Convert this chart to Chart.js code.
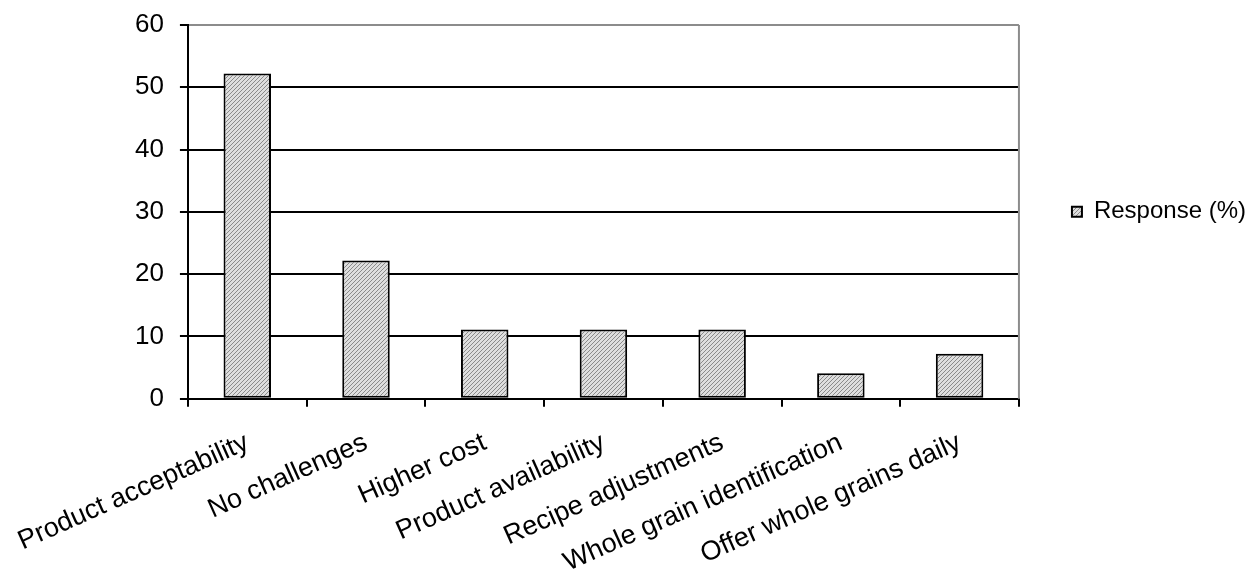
<!DOCTYPE html>
<html>
<head>
<meta charset="utf-8">
<script src="https://cdn.jsdelivr.net/npm/chart.js@4.4.1/dist/chart.umd.min.js"></script>
<style>
  html, body { margin: 0; padding: 0; background: #fff; }
  #wrap { width: 1256px; height: 571px; }
</style>
</head>
<body>
<div id="wrap"><canvas id="chart" width="1256" height="571"></canvas></div>
<script>
const categories = ['Product acceptability', 'No challenges', 'Higher cost', 'Product availability',
    'Recipe adjustments', 'Whole grain identification', 'Offer whole grains daily'];
const responses = [52.2, 22.2, 11.1, 11.1, 11.1, 4.1, 7.2];
const yTicks = [0, 10, 20, 30, 40, 50, 60];
const seriesName = 'Response (%)';

const FONT = '"Liberation Sans", Arial, sans-serif';

// light upward diagonal hatch, like the old Excel fill
function makeHatch() {
    const c = document.createElement('canvas');
    c.width = 4; c.height = 4;
    const g = c.getContext('2d');
    g.fillStyle = '#dedede';
    g.fillRect(0, 0, 4, 4);
    g.fillStyle = '#8a8a8a';
    for (let i = 0; i < 4; i++) g.fillRect(3 - i, i, 1, 1);
    return g.createPattern(c, 'repeat');
}

// grey frame line on the right side of the plot area
const rightFrame = {
    id: 'rightFrame',
    beforeDatasetsDraw(chart) {
        const { ctx, chartArea } = chart;
        ctx.save();
        ctx.strokeStyle = '#8c8c8c';
        ctx.lineWidth = 2;
        ctx.beginPath();
        ctx.moveTo(chartArea.right, chartArea.top);
        ctx.lineTo(chartArea.right, chartArea.bottom);
        ctx.stroke();
        ctx.restore();
    }
};

const ctx = document.getElementById('chart').getContext('2d');
new Chart(ctx, {
    type: 'bar',
    data: {
        labels: categories,
        datasets: [{
            label: seriesName,
            data: responses,
            backgroundColor: makeHatch(),
            borderColor: '#000',
            borderWidth: 2,
            borderSkipped: false,
            categoryPercentage: 0.8,
            barPercentage: 0.5
        }]
    },
    options: {
        responsive: false,
        animation: false,
        // rotated labels reserve more room than they use, so pull the bottom in
        layout: { padding: { top: 25, right: 0, left: 119, bottom: -28 } },
        plugins: {
            tooltip: { enabled: false },
            legend: {
                position: 'right',
                align: 'center',
                fullSize: false,
                labels: {
                    color: '#000',
                    boxWidth: 10,
                    boxHeight: 10,
                    padding: 53,
                    font: { family: FONT, size: 24 }
                }
            }
        },
        scales: {
            y: {
                min: yTicks[0],
                max: yTicks[yTicks.length - 1],
                afterBuildTicks: axis => { axis.ticks = yTicks.map(v => ({ value: v })); },
                // tick padding would otherwise also push the plot top down
                afterFit: axis => { axis.paddingTop = 0; },
                ticks: { color: '#000', padding: 16, font: { family: FONT, size: 26 } },
                grid: {
                    color: c => (c.tick && c.tick.value === 60 ? '#8c8c8c' : '#000'),
                    tickColor: '#000',
                    lineWidth: 2,
                    tickLength: 8
                },
                border: { color: '#000', width: 2 }
            },
            x: {
                // first rotated label may hang left of the plot, like the original
                afterFit: axis => { axis.paddingLeft = 0; },
                ticks: {
                    color: '#000',
                    minRotation: 24,
                    maxRotation: 24,
                    padding: 20,
                    font: { family: FONT, size: 27 }
                },
                grid: {
                    offset: true,
                    drawOnChartArea: false,
                    color: '#000',
                    lineWidth: 2,
                    tickLength: 8
                },
                border: { color: '#000', width: 2 }
            }
        }
    },
    plugins: [rightFrame]
});
</script>
</body>
</html>
